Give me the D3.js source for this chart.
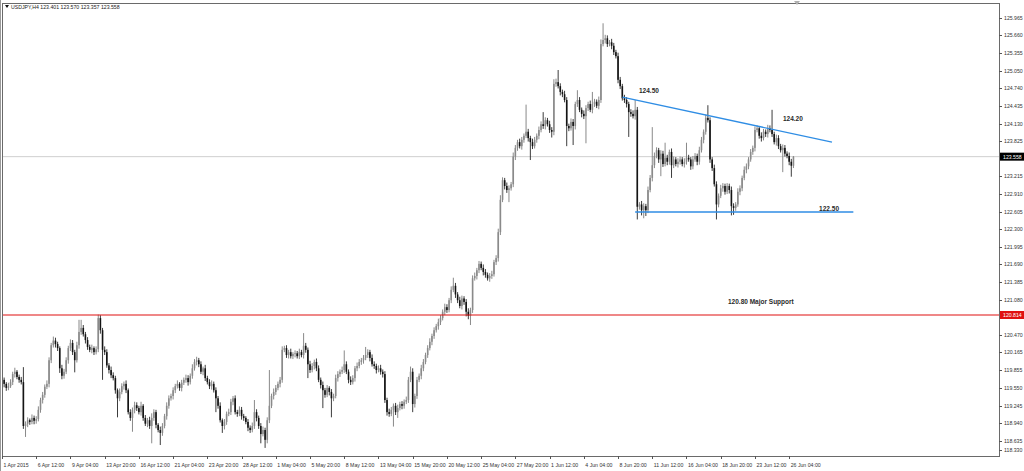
<!DOCTYPE html>
<html>
<head>
<meta charset="utf-8">
<script src="https://cdn.jsdelivr.net/npm/d3@7"></script>
<style>
  body { margin: 0; background: #fff; }
  svg text { font-family: "Liberation Sans", Arial, sans-serif; }
</style>
</head>
<body>
<div id="chart"></div>
<script>
// USDJPY H4, 1 Apr - 26 Jun 2015
const symbolTitle = "USDJPY,H4"
const lastBarOHLC = [123.401, 123.570, 123.357, 123.558]
const firstOpen = 119.66

const closes = [
  119.69,119.62,119.55,119.58,119.65,119.79,119.83,119.74,119.69,119.65,
  118.89,118.93,118.99,118.96,119.03,118.98,119.01,119.17,119.34,119.43,
  119.57,119.62,120.03,120.29,120.37,120.31,120.24,119.89,119.76,119.83,
  120.03,120.24,120.33,120.17,120.03,120.29,120.52,120.59,120.48,120.38,
  120.26,120.21,120.24,120.17,120.22,120.76,120.55,120.21,120.17,119.94,
  119.86,119.77,119.72,119.51,119.37,119.48,119.58,119.62,119.51,119.13,
  119.03,119.17,119.25,119.20,119.13,119.24,119.03,118.93,118.99,118.89,
  119.03,119.13,118.91,118.82,118.77,118.89,119.06,119.24,119.37,119.41,
  119.51,119.58,119.62,119.55,119.64,119.69,119.72,119.65,119.76,119.89,
  120.00,120.03,119.96,119.83,119.89,119.72,119.65,119.58,119.62,119.51,
  119.37,119.24,118.99,118.89,118.96,119.10,119.13,119.31,119.37,119.13,
  119.10,119.17,119.06,119.03,118.96,118.86,118.82,118.89,119.13,119.03,
  118.89,118.75,118.82,118.65,118.99,119.24,119.41,119.48,119.55,119.62,
  119.69,120.21,120.24,120.12,120.17,120.10,120.14,120.15,120.10,120.17,
  120.12,120.28,120.21,119.96,119.86,119.93,120.00,119.89,119.69,119.60,
  119.51,119.43,119.55,119.48,119.37,119.41,119.72,119.79,119.83,119.86,
  119.96,119.83,119.69,119.65,119.72,119.89,119.93,120.00,120.03,120.07,
  120.12,120.17,120.07,119.96,119.93,119.86,119.89,119.83,119.79,119.34,
  119.13,119.10,119.17,119.24,119.13,119.20,119.27,119.24,119.31,119.34,
  119.69,119.83,119.27,119.41,119.69,119.76,119.89,120.00,120.12,120.24,
  120.35,120.45,120.55,120.62,120.69,120.76,120.87,120.95,120.90,121.07,
  121.25,121.32,121.17,121.07,120.97,121.10,121.04,120.87,120.80,120.90,
  121.45,121.49,121.59,121.70,121.63,121.56,121.51,121.45,121.49,121.52,
  121.73,121.80,122.25,122.81,123.15,123.05,122.98,123.01,123.08,123.56,
  123.71,123.81,123.74,123.85,123.92,123.99,123.88,123.81,123.74,123.85,
  123.92,124.02,124.12,124.09,124.19,124.12,124.02,123.99,124.82,124.85,
  124.78,124.68,124.64,124.54,124.09,124.05,124.16,124.09,124.47,124.54,
  124.37,124.30,124.26,124.40,124.47,124.37,124.47,124.51,124.44,124.54,
  125.51,125.58,125.61,125.51,125.54,125.48,125.37,125.30,124.89,124.78,
  124.57,124.54,124.47,124.33,124.30,124.26,124.37,122.69,122.73,122.63,
  122.70,122.63,122.98,123.19,123.41,123.57,123.67,123.51,123.61,123.43,
  123.54,123.47,123.64,123.41,123.51,123.43,123.47,123.51,123.43,123.47,
  123.54,123.51,123.39,123.51,123.57,123.47,123.67,123.85,123.99,124.23,
  124.19,123.51,123.36,123.08,122.73,122.88,123.01,123.05,122.95,123.05,
  122.98,122.70,122.67,122.73,122.95,123.01,123.19,123.33,123.39,123.51,
  123.64,123.71,124.02,124.05,123.92,123.88,123.99,123.95,124.05,124.02,
  123.95,123.81,123.88,123.74,123.67,123.71,123.61,123.57,123.47,123.401,123.558
]

// wick lengths beyond the body, in pips (0.01)
const upperWickPips = [
  5,4,3,6,5,4,7,3,4,5,  26,4,5,3,6,4,5,6,4,5,  4,6,5,4,7,5,4,3,6,5,  5,4,6,5,4,6,21,14,5,4,
  5,4,6,3,5,6,5,4,6,5,  4,6,5,4,3,6,5,4,6,3,  5,4,6,5,4,7,3,5,4,6,  8,5,4,3,6,5,4,6,5,4,
  5,4,6,3,5,4,6,5,4,7,  5,6,4,5,3,6,4,5,6,4,  5,4,6,3,5,4,6,5,4,5,  4,6,5,4,3,5,4,6,21,5,
  4,5,6,4,5,62,4,6,5,4,  5,6,4,5,4,6,3,5,4,6,  4,22,5,4,6,5,4,6,5,4,  6,4,5,3,5,4,6,5,4,6,
  24,5,4,6,5,4,6,5,4,5,  14,5,4,6,5,4,5,6,4,5,  4,6,5,4,5,6,4,5,4,6,  5,9,6,4,5,4,6,5,4,5,
  6,4,5,4,6,5,4,6,5,4,  6,14,5,4,6,5,4,5,6,4,  5,6,4,5,4,6,5,4,5,6,  4,5,6,8,5,4,6,5,4,7,
  5,4,6,5,4,47,5,4,6,5,  4,6,5,21,5,4,6,5,8,6,  21,5,4,6,5,4,6,5,4,17,  5,4,6,5,4,6,21,5,4,6,
  8,29,6,5,4,6,5,4,6,5,  4,6,5,4,5,6,17,5,4,6,  5,4,6,5,66,6,5,4,6,5,  26,5,4,6,5,4,6,5,4,6,
  26,5,4,6,5,4,6,5,4,6,  22,5,4,6,5,4,6,5,4,5,  4,6,5,4,6,5,4,6,5,4,  5,4,6,5,4,6,5,4,6,5,
  35,4,6,5,4,6,5,4,6,5,1
]
const lowerWickPips = [
  4,6,5,4,3,5,6,4,5,4,  5,19,6,5,4,6,5,4,5,6,  5,4,6,5,4,6,5,8,6,5,  4,6,5,5,21,4,6,5,4,6,
  5,4,6,5,4,5,6,52,5,4,  6,5,4,6,33,5,4,6,5,4,  5,24,6,5,4,6,5,4,6,5,  30,5,6,4,21,5,4,6,5,4,
  6,5,4,5,6,4,5,6,4,5,  4,6,5,4,6,5,4,5,6,4,  24,5,4,12,6,5,4,5,6,4,  5,4,6,5,4,6,5,4,5,6,
  5,16,4,14,6,5,4,6,5,4,  6,5,4,5,6,4,5,6,4,5,  4,6,5,24,5,4,6,5,4,6,  31,5,4,6,33,5,4,6,5,4,
  5,4,6,5,4,6,5,4,5,6,  4,5,6,4,5,6,4,5,6,5,  6,5,4,29,5,10,4,6,5,4,  5,4,14,6,5,4,6,5,4,5,
  4,6,5,4,6,5,4,6,5,4,  5,4,6,5,4,6,5,8,6,16,  5,4,6,5,4,6,5,4,6,5,  4,5,6,5,4,6,5,21,4,5,
  6,5,4,6,5,4,6,31,5,4,  5,6,4,5,6,4,5,10,6,5,  4,6,5,4,35,5,4,33,6,5,  4,6,5,47,5,4,6,5,4,6,
  5,4,6,5,4,6,5,4,6,5,  4,5,6,43,5,4,6,22,5,9,  14,10,5,4,6,5,4,6,29,5,  4,6,5,22,5,4,6,5,4,6,
  5,4,6,5,4,6,5,4,6,5,  4,6,5,4,26,5,4,6,5,4,  6,16,12,5,4,6,5,4,6,5,  4,5,6,4,5,6,4,5,6,4,
  5,4,6,5,4,38,5,4,6,19,4
]

// bottom labels, one every 16 bars
const timeLabels = ["1 Apr 2015","6 Apr 12:00","9 Apr 04:00","13 Apr 20:00","16 Apr 12:00",
  "21 Apr 04:00","23 Apr 20:00","28 Apr 12:00","1 May 04:00","5 May 20:00","8 May 12:00",
  "13 May 04:00","15 May 20:00","20 May 12:00","25 May 04:00","27 May 20:00","1 Jun 12:00",
  "4 Jun 04:00","8 Jun 20:00","11 Jun 12:00","16 Jun 04:00","18 Jun 20:00","23 Jun 12:00","26 Jun 04:00"]
const labelStep = 16

const priceTicks = [125.965,125.660,125.355,125.050,124.740,124.435,124.130,123.825,
  123.215,122.910,122.605,122.300,121.995,121.690,121.385,121.080,
  120.470,120.165,119.855,119.550,119.245,118.940,118.635,118.330]

const bidPrice = 123.558
const supportPrice = 120.814
const resistance = [[290, 124.59], [388, 123.81]]
const floorLine = [[296, 122.60], [398, 122.60]]
const notes = [
  ["124.50", 297.8, 124.66],
  ["124.20", 365.1, 124.18],
  ["122.50", 382, 122.62],
  ["120.80 Major Support", 339.4, 121.01]
]

const w = 1024
const h = 471
const pL = 2, pR = 999, pT = 3, pB = 456

const svg = d3.select("#chart").append("svg")
  .attr("width", w).attr("height", h)

const x = d3.scaleLinear().domain([0, 466]).range([2, 998.8])
const y = d3.scaleLinear().domain([118.33, 125.965]).range([458.3, 17.8])

svg.append("clipPath").attr("id", "plot")
  .append("rect").attr("x", pL).attr("y", pT)
  .attr("width", pR - pL).attr("height", pB - pT)

const bars = closes.map(function(c, i) {
  const o = i === 0 ? firstOpen : closes[i - 1]
  return {
    i: i, o: o, c: c,
    hi: Math.max(o, c) + upperWickPips[i] / 100,
    lo: Math.min(o, c) - lowerWickPips[i] / 100
  }
})

const g = svg.append("g").attr("clip-path", "url(#plot)")

// bid line
g.append("line")
  .attr("x1", pL).attr("x2", pR)
  .attr("y1", y(bidPrice)).attr("y2", y(bidPrice))
  .attr("stroke", "#cfcfcf").attr("stroke-width", 1)

// candles
const candle = g.selectAll(".bar").data(bars).enter().append("g").attr("class", "bar")
candle.append("line")
  .attr("x1", d => x(d.i)).attr("x2", d => x(d.i))
  .attr("y1", d => y(d.hi)).attr("y2", d => y(d.lo))
  .attr("stroke", d => d.c >= d.o ? "#7c7c7c" : "#262626")
  .attr("stroke-width", 0.9)
candle.append("rect")
  .attr("x", d => x(d.i) - 0.8)
  .attr("width", 1.6)
  .attr("y", d => y(Math.max(d.o, d.c)))
  .attr("height", d => Math.max(0.8, y(Math.min(d.o, d.c)) - y(Math.max(d.o, d.c))))
  .attr("fill", d => d.c >= d.o ? "#8a8a8a" : "#141414")

// support line
g.append("line")
  .attr("x1", pL).attr("x2", pR)
  .attr("y1", y(supportPrice)).attr("y2", y(supportPrice))
  .attr("stroke", "#e01010").attr("stroke-width", 1.2)

// trend lines
const line = d3.line().x(d => x(d[0])).y(d => y(d[1]))
g.append("path").attr("d", line(resistance))
  .attr("fill", "none").attr("stroke", "#2f8de4").attr("stroke-width", 1.4)
g.append("path").attr("d", line(floorLine))
  .attr("fill", "none").attr("stroke", "#2f8de4").attr("stroke-width", 1.4)

g.selectAll(".note").data(notes).enter().append("text")
  .attr("class", "note")
  .attr("x", d => x(d[1])).attr("y", d => y(d[2]))
  .attr("font-size", 6.5).attr("font-weight", "bold")
  .attr("fill", "#2a2a2a")
  .text(d => d[0])

// frame
svg.append("line").attr("x1", 0.5).attr("x2", 0.5).attr("y1", 0).attr("y2", h)
  .attr("stroke", "#9a9a9a")
svg.append("rect")
  .attr("x", pL + 0.5).attr("y", pT + 0.5)
  .attr("width", pR - pL).attr("height", pB - pT)
  .attr("fill", "none").attr("stroke", "#6a6a6a").attr("stroke-width", 1)

// top shift marker
svg.append("path")
  .attr("d", "M794,1 L800,1 L797,5 Z")
  .attr("fill", "#b0b0b0")

// header
svg.append("path").attr("d", "M5,5 L9,5 L7,8 Z").attr("fill", "#111")
svg.append("text")
  .attr("x", 11).attr("y", 9)
  .attr("font-size", 5.2).attr("fill", "#222")
  .text(symbolTitle + "  " + lastBarOHLC.map(v => v.toFixed(3)).join(" "))

// price axis
const yAxis = svg.append("g")
yAxis.selectAll(".tk").data(priceTicks).enter().append("line")
  .attr("x1", pR).attr("x2", pR + 3)
  .attr("y1", d => Math.round(Math.min(y(d), 450)) + 0.5)
  .attr("y2", d => Math.round(Math.min(y(d), 450)) + 0.5)
  .attr("stroke", "#555")
yAxis.selectAll(".tl").data(priceTicks).enter().append("text")
  .attr("x", 1004).attr("y", d => Math.min(y(d), 450) + 2)
  .attr("font-size", 5.2).attr("fill", "#333")
  .text(d => d.toFixed(3))

const priceBoxes = [[bidPrice, "#000"], [supportPrice, "#e01010"]]
priceBoxes.forEach(function(b) {
  yAxis.append("rect")
    .attr("x", pR + 1).attr("y", y(b[0]) - 4)
    .attr("width", 24).attr("height", 8)
    .attr("fill", b[1])
  yAxis.append("text")
    .attr("x", 1003).attr("y", y(b[0]) + 2)
    .attr("font-size", 5.2).attr("fill", "#fff")
    .text(b[0].toFixed(3))
})

// time axis
const xAxis = svg.append("g")
xAxis.selectAll(".tk").data(timeLabels).enter().append("line")
  .attr("x1", (d, k) => Math.round(x(k * labelStep)) + 0.5)
  .attr("x2", (d, k) => Math.round(x(k * labelStep)) + 0.5)
  .attr("y1", pB).attr("y2", pB + 3)
  .attr("stroke", "#555")
xAxis.selectAll(".tl").data(timeLabels).enter().append("text")
  .attr("x", (d, k) => x(k * labelStep) + 1.5)
  .attr("y", 467)
  .attr("font-size", 5.2).attr("fill", "#333")
  .text(d => d)
</script>
</body>
</html>
